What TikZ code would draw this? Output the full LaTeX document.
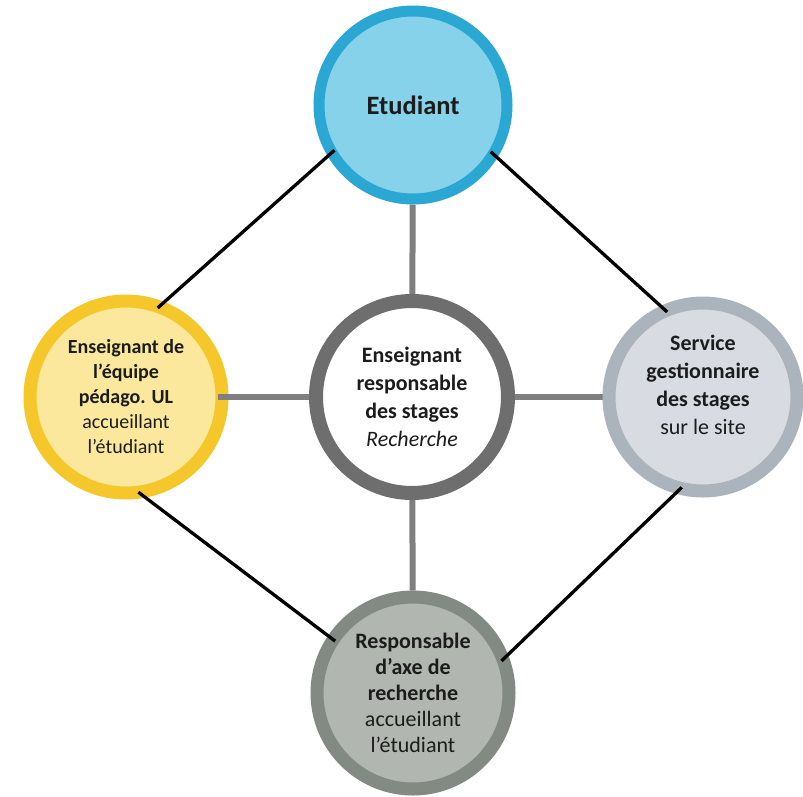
\documentclass[tikz,border=0pt]{standalone}
\usepackage{fontspec}
\setmainfont{Carlito}
\usetikzlibrary{backgrounds}
\definecolor{blueFill}{HTML}{86D2EA}
\definecolor{blueRing}{HTML}{2AA8D3}
\definecolor{yelFill}{HTML}{FCE89C}
\definecolor{yelRing}{HTML}{F6C72A}
\definecolor{midRing}{HTML}{6E6E6E}
\definecolor{rFill}{HTML}{D8DCE2}
\definecolor{rRing}{HTML}{ABB3BC}
\definecolor{bFill}{HTML}{B2B6B1}
\definecolor{bRing}{HTML}{838983}
\definecolor{linkGray}{HTML}{7F7F7F}
\definecolor{txt}{HTML}{1C1C1C}
\begin{document}
\begin{tikzpicture}[x=1pt,y=-1pt,
  bubble/.style={circle, line width=12pt, minimum size=192pt, inner sep=0pt, align=center, text=txt},
  blackline/.style={line width=3.3pt, black, shorten <=-9pt, shorten >=-9pt},
  grayline/.style={line width=6pt, linkGray}]
\useasboundingbox (0,0) rectangle (803,796);
\node[bubble, minimum size=188pt, line width=11pt, draw=blueRing, fill=blueFill,
  font=\bfseries\fontsize{26.5}{30}\selectfont] (top) at (413,105) {Etudiant};
\node[bubble, draw=yelRing, fill=yelFill, line width=13pt,
  font=\fontsize{20}{25}\selectfont] (left) at (126,397)
  {\textbf{Enseignant de}\\\textbf{l’équipe}\\\textbf{pédago. UL}\\accueillant\\l’étudiant};
\node[bubble, draw=midRing, fill=white, line width=14pt,
  font=\fontsize{22}{28}\selectfont] (mid) at (412,397)
  {\textbf{Enseignant}\\\textbf{responsable}\\\textbf{des stages}\\\textit{Recherche}};
\node[bubble, minimum size=188pt, draw=rRing, fill=rFill, line width=13pt,
  font=\fontsize{22}{28}\selectfont] (right) at (703,397)
  {\textbf{Service}\\\textbf{gestionnaire}\\\textbf{des stages}\\sur le site\\[-4pt]\mbox{}};
\node[bubble, draw=bRing, fill=bFill, line width=13pt,
  font=\fontsize{22}{26}\selectfont] (bot) at (413,693)
  {\textbf{Responsable}\\\textbf{d’axe de}\\\textbf{recherche}\\accueillant\\l’étudiant};
\begin{pgfonlayer}{background}
  \fill[white] (0,0) rectangle (803,796);
  \draw[grayline] (mid) -- (top);
  \draw[grayline] (mid) -- (right);
  \draw[grayline] (mid) -- (bot);
\end{pgfonlayer}
\draw[grayline, shorten >=-11pt] (mid.west) -- (left.east);
\draw[blackline] (top.211) -- (left.68);
\draw[blackline] (top.328) -- (right.115);
\draw[blackline] (left.281) -- (bot.146);
\draw[blackline] (right.254) -- (bot.22);
\end{tikzpicture}
\end{document}
